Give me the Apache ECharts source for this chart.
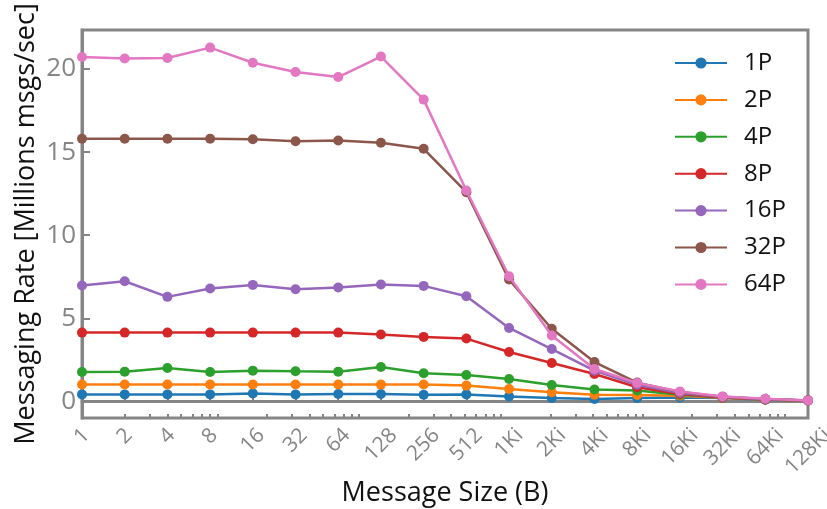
<!DOCTYPE html>
<html>
<head>
<meta charset="utf-8">
<script src="https://cdn.jsdelivr.net/npm/echarts@6/dist/echarts.min.js"></script>
<style>
  html, body { margin: 0; padding: 0; background: #fff; }
  #chart { width: 827px; height: 509px; }
</style>
</head>
<body>
<div id="chart"></div>
<script>
// Message sizes (powers of two, 1 B .. 128 KiB)
const sizeLabels = ['1', '2', '4', '8', '16', '32', '64', '128', '256', '512',
  '1Ki', '2Ki', '4Ki', '8Ki', '16Ki', '32Ki', '64Ki', '128Ki'];

// Messaging rate in millions of messages per second, per process count
const rate1P  = [0.42, 0.42, 0.42, 0.42, 0.48, 0.42, 0.44, 0.44, 0.40, 0.42, 0.30, 0.20, 0.14, 0.20, 0.24, 0.20, 0.10, 0.05];
const rate2P  = [1.02, 1.02, 1.02, 1.02, 1.02, 1.02, 1.02, 1.01, 1.02, 0.95, 0.75, 0.55, 0.40, 0.38, 0.34, 0.22, 0.12, 0.05];
const rate4P  = [1.77, 1.79, 2.01, 1.77, 1.85, 1.81, 1.79, 2.07, 1.69, 1.59, 1.35, 0.99, 0.72, 0.66, 0.40, 0.24, 0.12, 0.05];
const rate8P  = [4.14, 4.14, 4.14, 4.14, 4.14, 4.14, 4.14, 4.02, 3.88, 3.78, 2.97, 2.31, 1.65, 0.85, 0.44, 0.24, 0.12, 0.05];
const rate16P = [6.97, 7.23, 6.29, 6.79, 7.01, 6.75, 6.85, 7.03, 6.95, 6.33, 4.42, 3.15, 1.85, 1.00, 0.50, 0.26, 0.13, 0.05];
const rate32P = [15.81, 15.81, 15.81, 15.81, 15.77, 15.66, 15.70, 15.57, 15.20, 12.59, 7.33, 4.37, 2.37, 1.13, 0.56, 0.28, 0.14, 0.06];
const rate64P = [20.72, 20.64, 20.66, 21.29, 20.38, 19.82, 19.52, 20.75, 18.16, 12.69, 7.53, 3.97, 1.95, 1.11, 0.60, 0.30, 0.16, 0.06];

const seriesNames = ['1P', '2P', '4P', '8P', '16P', '32P', '64P'];
const seriesValues = [rate1P, rate2P, rate4P, rate8P, rate16P, rate32P, rate64P];
const seriesColors = ['#1f77b4', '#ff7f0e', '#2ca02c', '#d62728', '#9467bd', '#8c564b', '#e377c2'];

// Y tick values
const rateTicks = [0, 5, 10, 15, 20];

const FONT = '"Open Sans", "Noto Sans", sans-serif';
const GRAY = '#858585';
const X_LABEL_SIZE = 21;
const X_LABEL_LINE = 20;

// Base-10 minor ticks (2..9 x 10^k) placed on the log2 scale
const minorTicks = [];
for (let dec = 1; dec <= 100000; dec *= 10) {
  for (let m = 2; m <= 9; m++) {
    const v = m * dec;
    if (v <= 131072) minorTicks.push(Math.log2(v));
  }
}

// Rotated labels: top/centre anchored, then padded by a share of their own
// width so each bounding box hangs centred under its tick with a common top.
const measure = document.createElement('canvas').getContext('2d');
measure.font = X_LABEL_SIZE + 'px ' + FONT;
const xCategories = sizeLabels.map(function (s) {
  const w = measure.measureText(s).width;
  return {
    value: s,
    textStyle: {
      align: 'center',
      verticalAlign: 'top',
      lineHeight: X_LABEL_LINE,
      padding: [w * 0.25, X_LABEL_LINE + w * 0.5, 0, 0]
    }
  };
});

const chart = echarts.init(document.getElementById('chart'), null, { renderer: 'canvas' });

const option = {
  animation: false,
  backgroundColor: '#fff',
  grid: {
    left: 82, right: 19, top: 30, bottom: 91,
    outerBoundsMode: 'none',
    containLabel: false,
    show: true, borderColor: GRAY, borderWidth: 3, backgroundColor: 'transparent'
  },
  legend: {
    orient: 'vertical',
    left: 674, top: 51,
    itemWidth: 52, itemHeight: 14, itemGap: 12.9,
    padding: 0,
    data: seriesNames,
    textStyle: { fontFamily: FONT, fontSize: 24, lineHeight: 20, color: '#111', padding: [0, 0, 0, 12] }
  },
  xAxis: [
    {
      type: 'category',
      data: xCategories,
      boundaryGap: false,
      position: 'bottom',
      name: 'Message Size (B)',
      nameLocation: 'middle',
      nameGap: 62,
      nameMoveOverlap: false,
      nameTextStyle: { fontFamily: FONT, fontSize: 27, color: '#111' },
      axisLine: { show: true, lineStyle: { color: GRAY, width: 3 } },
      axisTick: { show: true, inside: true, length: 8, interval: 0, lineStyle: { color: GRAY, width: 2 } },
      axisLabel: {
        interval: 0, rotate: 45, margin: 0,
        fontFamily: FONT, fontSize: X_LABEL_SIZE, color: GRAY
      },
      splitLine: { show: false }
    },
    {
      type: 'value',
      min: 0, max: 17,
      position: 'bottom',
      axisLine: { show: false },
      axisTick: { show: true, inside: true, length: 4, customValues: minorTicks, lineStyle: { color: GRAY, width: 2 } },
      axisLabel: { show: false },
      splitLine: { show: false }
    }
  ],
  yAxis: {
    type: 'value',
    min: -1.0, max: 22.35,
    name: 'Messaging Rate [Millions msgs/sec]',
    nameLocation: 'middle',
    nameGap: 42,
    nameMoveOverlap: false,
    nameTextStyle: { fontFamily: FONT, fontSize: 27, color: '#111' },
    axisLine: { show: true, lineStyle: { color: GRAY, width: 3 } },
    axisTick: { show: true, inside: true, length: 8, customValues: rateTicks, lineStyle: { color: GRAY, width: 2 } },
    axisLabel: { customValues: rateTicks, margin: 6, fontFamily: FONT, fontSize: 26, color: GRAY },
    splitLine: { show: false }
  },
  series: seriesNames.map(function (name, i) {
    return {
      name: name,
      type: 'line',
      xAxisIndex: 0,
      data: seriesValues[i],
      symbol: 'circle',
      symbolSize: 10,
      showAllSymbol: true,
      clip: false,
      color: seriesColors[i],
      lineStyle: { width: 2.5, color: seriesColors[i] },
      itemStyle: { color: seriesColors[i] },
      z: 2 + i
    };
  })
};

chart.setOption(option);
</script>
</body>
</html>
